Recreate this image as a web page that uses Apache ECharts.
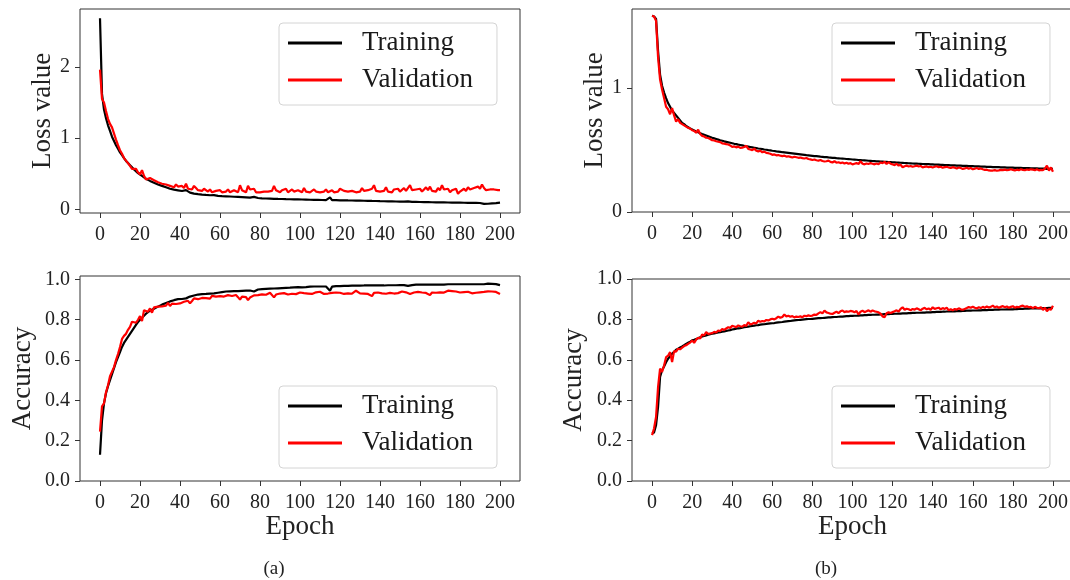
<!DOCTYPE html>
<html>
<head>
<meta charset="utf-8">
<script src="https://cdn.jsdelivr.net/npm/echarts@6/dist/echarts.min.js"></script>
<style>
  html, body { margin: 0; padding: 0; background: #fff; }
  #chart { width: 1070px; height: 580px; }
</style>
</head>
<body>
<div id="chart"></div>
<script>
// Epoch ticks shown on every x axis
const epochTicks = [0, 20, 40, 60, 80, 100, 120, 140, 160, 180, 200];
const lossTicksA = [0, 1, 2];
const lossTicksB = [0, 1];
const accTicks = [0, 0.2, 0.4, 0.6, 0.8, 1.0];
const seriesNames = ['Training', 'Validation'];

// (a) loss per epoch, 0..200
const lossTrainA = [
  2.68, 1.62, 1.40, 1.28, 1.18, 1.10, 1.02, 0.96, 0.90, 0.85,
  0.80, 0.76, 0.72, 0.68, 0.65, 0.62, 0.59, 0.56, 0.54, 0.51,
  0.49, 0.47, 0.45, 0.43, 0.42, 0.40, 0.39, 0.375, 0.36, 0.35,
  0.34, 0.33, 0.32, 0.31, 0.30, 0.29, 0.285, 0.278, 0.272, 0.268,
  0.262, 0.258, 0.262, 0.270, 0.248, 0.236, 0.228, 0.222, 0.218, 0.214,
  0.211, 0.208, 0.206, 0.203, 0.201, 0.199, 0.196, 0.201, 0.194, 0.191,
  0.189, 0.187, 0.186, 0.184, 0.182, 0.181, 0.179, 0.178, 0.176, 0.175,
  0.173, 0.172, 0.170, 0.169, 0.168, 0.166, 0.165, 0.176, 0.172, 0.160,
  0.158, 0.155, 0.157, 0.153, 0.155, 0.151, 0.153, 0.149, 0.151, 0.147,
  0.149, 0.146, 0.148, 0.144, 0.146, 0.143, 0.145, 0.141, 0.143, 0.140,
  0.142, 0.139, 0.141, 0.138, 0.140, 0.136, 0.138, 0.135, 0.137, 0.134,
  0.135, 0.132, 0.134, 0.131, 0.138, 0.168, 0.130, 0.129, 0.131, 0.127,
  0.128, 0.126, 0.128, 0.125, 0.126, 0.123, 0.125, 0.122, 0.124, 0.121,
  0.125, 0.120, 0.122, 0.119, 0.121, 0.118, 0.119, 0.116, 0.118, 0.115,
  0.116, 0.114, 0.115, 0.112, 0.114, 0.111, 0.113, 0.110, 0.111, 0.109,
  0.110, 0.108, 0.109, 0.107, 0.112, 0.124, 0.106, 0.107, 0.105, 0.106,
  0.104, 0.105, 0.103, 0.104, 0.102, 0.103, 0.101, 0.102, 0.100, 0.101,
  0.099, 0.100, 0.098, 0.100, 0.097, 0.099, 0.096, 0.098, 0.095, 0.097,
  0.095, 0.096, 0.094, 0.095, 0.093, 0.095, 0.092, 0.094, 0.092, 0.093,
  0.090, 0.095, 0.078, 0.076, 0.080, 0.082, 0.085, 0.087, 0.089, 0.091,
  0.095
];
const lossValA = [
  1.96, 1.55, 1.50, 1.38, 1.27, 1.20, 1.15, 1.13, 0.98, 0.90,
  0.83, 0.78, 0.72, 0.70, 0.65, 0.61, 0.57, 0.55, 0.57, 0.52,
  0.49, 0.55, 0.47, 0.42, 0.43, 0.44, 0.46, 0.41, 0.40, 0.38,
  0.37, 0.36, 0.37, 0.35, 0.36, 0.33, 0.34, 0.31, 0.35, 0.32,
  0.31, 0.33, 0.30, 0.36, 0.29, 0.30, 0.28, 0.33, 0.30, 0.27,
  0.28, 0.26, 0.29, 0.27, 0.25, 0.28, 0.24, 0.23, 0.26, 0.25,
  0.27, 0.24, 0.26, 0.25, 0.28, 0.24, 0.26, 0.27, 0.25, 0.24,
  0.34, 0.27, 0.25, 0.24, 0.33, 0.28, 0.26, 0.29, 0.24, 0.25,
  0.24, 0.26, 0.25, 0.27, 0.25, 0.24, 0.26, 0.33, 0.27, 0.25,
  0.24, 0.27, 0.25, 0.29, 0.24, 0.26, 0.28, 0.25, 0.23, 0.27,
  0.26, 0.24, 0.30, 0.25, 0.27, 0.24, 0.26, 0.28, 0.25, 0.27,
  0.24, 0.26, 0.25, 0.28, 0.24, 0.25, 0.27, 0.24, 0.26, 0.25,
  0.29, 0.27, 0.26, 0.28, 0.25, 0.27, 0.26, 0.28, 0.24, 0.26,
  0.25, 0.30, 0.26, 0.24, 0.27, 0.25, 0.29, 0.34, 0.26, 0.28,
  0.25, 0.27, 0.26, 0.31, 0.25, 0.27, 0.24, 0.28, 0.26, 0.29,
  0.25, 0.27, 0.30, 0.26, 0.28, 0.34, 0.27, 0.25, 0.28, 0.26,
  0.29, 0.25, 0.28, 0.31, 0.27, 0.32, 0.26, 0.28, 0.25, 0.30,
  0.27, 0.34, 0.28, 0.26, 0.29, 0.24, 0.27, 0.26, 0.29, 0.22,
  0.25, 0.27, 0.29, 0.26, 0.31, 0.28, 0.27, 0.30, 0.28, 0.32,
  0.29, 0.35, 0.30, 0.27, 0.25, 0.28, 0.26, 0.28, 0.27, 0.27,
  0.27
];

// (a) accuracy per epoch
const accTrainA = [
  0.13, 0.30, 0.385, 0.435, 0.47, 0.50, 0.53, 0.56, 0.59, 0.615,
  0.64, 0.665, 0.685, 0.70, 0.715, 0.73, 0.745, 0.76, 0.775, 0.788,
  0.80, 0.81, 0.82, 0.83, 0.838, 0.845, 0.85, 0.855, 0.86, 0.865,
  0.87, 0.875, 0.879, 0.883, 0.887, 0.891, 0.894, 0.897, 0.90, 0.902,
  0.905, 0.903, 0.908, 0.906, 0.912, 0.915, 0.917, 0.920, 0.922, 0.925,
  0.928, 0.927, 0.929, 0.928, 0.931, 0.930, 0.932, 0.931, 0.933, 0.934,
  0.938, 0.937, 0.939, 0.940, 0.939, 0.941, 0.940, 0.942, 0.943, 0.942,
  0.944, 0.943, 0.945, 0.944, 0.946, 0.945, 0.946, 0.940, 0.944, 0.950,
  0.953, 0.952, 0.954, 0.953, 0.955, 0.954, 0.956, 0.955, 0.957, 0.956,
  0.958, 0.957, 0.959, 0.958, 0.960, 0.959, 0.960, 0.961, 0.960, 0.962,
  0.962, 0.961, 0.963, 0.962, 0.963, 0.964, 0.963, 0.965, 0.964, 0.965,
  0.966, 0.965, 0.966, 0.965, 0.962, 0.944, 0.964, 0.966, 0.967, 0.966,
  0.967, 0.966, 0.968, 0.967, 0.968, 0.967, 0.969, 0.968, 0.969, 0.968,
  0.969, 0.968, 0.970, 0.969, 0.970, 0.969, 0.970, 0.971, 0.970, 0.971,
  0.970, 0.971, 0.970, 0.972, 0.971, 0.972, 0.971, 0.972, 0.971, 0.973,
  0.972, 0.973, 0.972, 0.973, 0.968, 0.962, 0.972, 0.973, 0.974, 0.973,
  0.974, 0.973, 0.974, 0.973, 0.974, 0.975, 0.974, 0.975, 0.974, 0.975,
  0.974, 0.975, 0.974, 0.975, 0.976, 0.975, 0.976, 0.975, 0.976, 0.975,
  0.976, 0.975, 0.976, 0.975, 0.976, 0.977, 0.976, 0.977, 0.976, 0.977,
  0.976, 0.977, 0.976, 0.978, 0.979, 0.977, 0.978, 0.976, 0.977, 0.975,
  0.972
];
const accValA = [
  0.245, 0.37, 0.385, 0.44, 0.475, 0.52, 0.525, 0.565, 0.60, 0.63,
  0.665, 0.705, 0.72, 0.73, 0.75, 0.765, 0.79, 0.79, 0.785, 0.80,
  0.818, 0.793, 0.847, 0.847, 0.84, 0.856, 0.835, 0.861, 0.858, 0.865,
  0.868, 0.866, 0.873, 0.870, 0.884, 0.868, 0.880, 0.889, 0.878, 0.885,
  0.881, 0.886, 0.889, 0.884, 0.894, 0.881, 0.893, 0.906, 0.898, 0.902,
  0.900, 0.908, 0.914, 0.907, 0.911, 0.905, 0.918, 0.926, 0.915, 0.920,
  0.917, 0.921, 0.915, 0.919, 0.922, 0.914, 0.918, 0.920, 0.923, 0.912,
  0.900, 0.915, 0.918, 0.912, 0.897, 0.910, 0.916, 0.921, 0.925, 0.922,
  0.930, 0.926, 0.928, 0.924, 0.931, 0.934, 0.927, 0.911, 0.925, 0.929,
  0.930, 0.926, 0.932, 0.928, 0.925, 0.931, 0.929, 0.933, 0.927, 0.930,
  0.935, 0.929, 0.932, 0.926, 0.930, 0.934, 0.928, 0.931, 0.936, 0.930,
  0.939, 0.932, 0.928, 0.934, 0.930, 0.927, 0.933, 0.929, 0.935, 0.931,
  0.934, 0.930, 0.928, 0.935, 0.931, 0.937, 0.929, 0.933, 0.944, 0.935,
  0.931, 0.937, 0.930, 0.934, 0.928, 0.932, 0.917, 0.933, 0.938, 0.935,
  0.936, 0.931, 0.934, 0.929, 0.938, 0.933, 0.936, 0.930, 0.937, 0.932,
  0.935, 0.940, 0.931, 0.936, 0.930, 0.928, 0.921, 0.935, 0.944, 0.938,
  0.942, 0.935, 0.939, 0.933, 0.937, 0.922, 0.935, 0.940, 0.934, 0.938,
  0.936, 0.941, 0.935, 0.939, 0.944, 0.950, 0.942, 0.936, 0.940, 0.933,
  0.935, 0.930, 0.937, 0.933, 0.939, 0.935, 0.931, 0.937, 0.934, 0.940,
  0.936, 0.932, 0.938, 0.935, 0.941, 0.946, 0.940, 0.936, 0.938, 0.932,
  0.928
];

// (b) loss per epoch
const lossTrainB = [
  1.585, 1.58, 1.56, 1.30, 1.11, 1.02, 0.965, 0.92, 0.88, 0.85,
  0.82, 0.80, 0.78, 0.76, 0.74, 0.72, 0.71, 0.695, 0.685, 0.675,
  0.667, 0.659, 0.651, 0.644, 0.637, 0.630, 0.624, 0.618, 0.612, 0.606,
  0.600, 0.595, 0.590, 0.585, 0.580, 0.576, 0.571, 0.567, 0.563, 0.559,
  0.555, 0.551, 0.548, 0.544, 0.541, 0.538, 0.534, 0.531, 0.528, 0.525,
  0.522, 0.519, 0.516, 0.513, 0.511, 0.508, 0.505, 0.503, 0.500, 0.498,
  0.495, 0.493, 0.490, 0.488, 0.486, 0.483, 0.481, 0.479, 0.477, 0.475,
  0.473, 0.471, 0.469, 0.467, 0.465, 0.463, 0.461, 0.459, 0.458, 0.456,
  0.454, 0.452, 0.451, 0.449, 0.447, 0.446, 0.444, 0.443, 0.441, 0.440,
  0.438, 0.437, 0.435, 0.434, 0.432, 0.431, 0.430, 0.428, 0.427, 0.426,
  0.424, 0.423, 0.422, 0.420, 0.419, 0.418, 0.417, 0.416, 0.414, 0.413,
  0.412, 0.411, 0.410, 0.409, 0.408, 0.407, 0.406, 0.405, 0.404, 0.403,
  0.402, 0.401, 0.400, 0.399, 0.398, 0.397, 0.396, 0.395, 0.394, 0.393,
  0.392, 0.391, 0.391, 0.390, 0.389, 0.388, 0.387, 0.386, 0.386, 0.385,
  0.384, 0.383, 0.382, 0.382, 0.381, 0.380, 0.379, 0.379, 0.378, 0.377,
  0.376, 0.376, 0.375, 0.374, 0.374, 0.373, 0.372, 0.372, 0.371, 0.370,
  0.370, 0.369, 0.368, 0.368, 0.367, 0.366, 0.366, 0.365, 0.365, 0.364,
  0.363, 0.363, 0.362, 0.362, 0.361, 0.360, 0.360, 0.359, 0.359, 0.358,
  0.358, 0.357, 0.357, 0.356, 0.356, 0.355, 0.355, 0.354, 0.354, 0.353,
  0.353, 0.352, 0.352, 0.351, 0.351, 0.350, 0.350, 0.349, 0.349, 0.348,
  0.348
];
const lossValB = [
  1.585, 1.58, 1.545, 1.25, 1.07, 0.99, 0.92, 0.85, 0.83, 0.79,
  0.84, 0.78, 0.73, 0.75, 0.72, 0.71, 0.70, 0.69, 0.68, 0.675,
  0.66, 0.655, 0.64, 0.665, 0.63, 0.615, 0.61, 0.60, 0.598, 0.59,
  0.58, 0.578, 0.572, 0.568, 0.565, 0.555, 0.552, 0.548, 0.545, 0.538,
  0.525, 0.53, 0.522, 0.528, 0.518, 0.52, 0.525, 0.535, 0.51, 0.505,
  0.50, 0.512, 0.495, 0.49, 0.495, 0.482, 0.488, 0.478, 0.475, 0.47,
  0.462, 0.465, 0.458, 0.46, 0.455, 0.452, 0.455, 0.448, 0.45, 0.445,
  0.44, 0.446, 0.442, 0.438, 0.44, 0.435, 0.432, 0.436, 0.428, 0.425,
  0.42, 0.424, 0.418, 0.415, 0.42, 0.412, 0.408, 0.41, 0.415, 0.405,
  0.40, 0.41, 0.398, 0.402, 0.395, 0.40, 0.392, 0.398, 0.39, 0.395,
  0.385, 0.39, 0.395, 0.388, 0.41, 0.39, 0.385, 0.392, 0.388, 0.395,
  0.39, 0.385, 0.392, 0.386, 0.40, 0.395, 0.405, 0.388, 0.402, 0.39,
  0.385, 0.378, 0.39, 0.375, 0.382, 0.362, 0.37, 0.375, 0.368, 0.372,
  0.365, 0.37, 0.375, 0.368, 0.372, 0.36, 0.365, 0.368, 0.362, 0.366,
  0.36, 0.365, 0.37, 0.362, 0.366, 0.358, 0.362, 0.365, 0.36, 0.355,
  0.362, 0.358, 0.352, 0.36, 0.355, 0.348, 0.352, 0.358, 0.35, 0.355,
  0.345, 0.35, 0.355, 0.348, 0.352, 0.345, 0.34, 0.342, 0.336, 0.334,
  0.335, 0.338, 0.333, 0.336, 0.34, 0.338, 0.342, 0.337, 0.34, 0.345,
  0.34, 0.336, 0.342, 0.338, 0.345, 0.34, 0.337, 0.343, 0.34, 0.345,
  0.342, 0.338, 0.345, 0.336, 0.34, 0.338, 0.35, 0.375, 0.335, 0.36,
  0.325
];

// (b) accuracy per epoch
const accTrainB = [
  0.235, 0.24, 0.276, 0.367, 0.515, 0.548, 0.567, 0.588, 0.605, 0.618,
  0.63, 0.64, 0.65, 0.655, 0.661, 0.666, 0.672, 0.679, 0.685, 0.690,
  0.696, 0.699, 0.703, 0.707, 0.711, 0.715, 0.718, 0.721, 0.724, 0.727,
  0.729, 0.731, 0.733, 0.735, 0.737, 0.739, 0.741, 0.743, 0.745, 0.747,
  0.750, 0.752, 0.754, 0.756, 0.757, 0.759, 0.761, 0.763, 0.764, 0.766,
  0.768, 0.769, 0.771, 0.772, 0.774, 0.775, 0.776, 0.778, 0.779, 0.780,
  0.781, 0.782, 0.784, 0.785, 0.786, 0.787, 0.789, 0.790, 0.791, 0.792,
  0.794, 0.795, 0.796, 0.797, 0.798, 0.799, 0.800, 0.801, 0.802, 0.802,
  0.803, 0.804, 0.805, 0.806, 0.806, 0.807, 0.808, 0.809, 0.810, 0.810,
  0.811, 0.812, 0.812, 0.813, 0.814, 0.814, 0.815, 0.816, 0.816, 0.817,
  0.817, 0.818, 0.818, 0.819, 0.820, 0.820, 0.821, 0.821, 0.822, 0.822,
  0.823, 0.823, 0.824, 0.824, 0.825, 0.825, 0.826, 0.826, 0.826, 0.827,
  0.827, 0.828, 0.828, 0.829, 0.829, 0.830, 0.830, 0.830, 0.831, 0.831,
  0.832, 0.832, 0.833, 0.833, 0.833, 0.834, 0.834, 0.835, 0.835, 0.835,
  0.836, 0.836, 0.837, 0.837, 0.837, 0.838, 0.838, 0.839, 0.839, 0.839,
  0.840, 0.840, 0.841, 0.841, 0.841, 0.842, 0.842, 0.843, 0.843, 0.843,
  0.844, 0.844, 0.844, 0.845, 0.845, 0.846, 0.846, 0.846, 0.847, 0.847,
  0.847, 0.848, 0.848, 0.848, 0.849, 0.849, 0.849, 0.850, 0.850, 0.850,
  0.850, 0.851, 0.851, 0.852, 0.852, 0.852, 0.853, 0.853, 0.853, 0.854,
  0.854, 0.854, 0.855, 0.855, 0.855, 0.856, 0.856, 0.856, 0.857, 0.857,
  0.857
];
const accValB = [
  0.227, 0.26, 0.317, 0.465, 0.556, 0.54, 0.572, 0.613, 0.62, 0.638,
  0.589, 0.643, 0.64, 0.655, 0.652, 0.66, 0.668, 0.672, 0.679, 0.685,
  0.696, 0.684, 0.70, 0.709, 0.705, 0.725, 0.72, 0.737, 0.728, 0.73,
  0.732, 0.738, 0.735, 0.745, 0.742, 0.753, 0.748, 0.755, 0.761, 0.758,
  0.768, 0.765, 0.762, 0.77, 0.766, 0.764, 0.772, 0.768, 0.786, 0.775,
  0.778, 0.783, 0.78, 0.794, 0.788, 0.792, 0.79, 0.797, 0.795, 0.80,
  0.803, 0.80, 0.806, 0.814, 0.808, 0.812, 0.824, 0.815, 0.818, 0.813,
  0.816, 0.81, 0.814, 0.812, 0.815, 0.811, 0.818, 0.816, 0.82, 0.817,
  0.819, 0.824, 0.822, 0.83, 0.836, 0.83, 0.844, 0.835, 0.832, 0.828,
  0.827, 0.833, 0.838, 0.831, 0.84, 0.844, 0.836, 0.84, 0.838, 0.842,
  0.84, 0.835, 0.842, 0.824, 0.838, 0.843, 0.836, 0.84, 0.845, 0.838,
  0.844, 0.84, 0.838, 0.835, 0.828, 0.815, 0.811, 0.83, 0.835, 0.832,
  0.836, 0.84, 0.845, 0.838, 0.852, 0.86, 0.848, 0.853, 0.85, 0.845,
  0.852, 0.848, 0.855, 0.85, 0.845, 0.853, 0.857, 0.85, 0.854, 0.848,
  0.86, 0.852, 0.855, 0.858, 0.85, 0.856, 0.852, 0.858, 0.845, 0.85,
  0.845, 0.852, 0.848, 0.855, 0.85, 0.848, 0.852, 0.856, 0.861, 0.858,
  0.863, 0.858, 0.854, 0.86, 0.856, 0.862, 0.858, 0.864, 0.859, 0.862,
  0.868, 0.86, 0.864, 0.858, 0.862, 0.866, 0.86, 0.864, 0.858, 0.862,
  0.865, 0.858, 0.862, 0.86, 0.866, 0.868, 0.862, 0.865, 0.86, 0.862,
  0.856, 0.862, 0.858, 0.855, 0.86, 0.847, 0.858, 0.84, 0.852, 0.848,
  0.868
];

const FONT = "'Liberation Serif', 'Times New Roman', serif";
const TEXT = '#222';
const AXIS = '#333';
const COLORS = ['#000000', '#ff0000'];

// panel frames: (a) left column, (b) right column
const grids = [
  { left: 80,  top: 9,   width: 440, height: 204 },
  { left: 80,  top: 276, width: 440, height: 205 },
  { left: 632, top: 9,   width: 441, height: 203 },
  { left: 632, top: 279, width: 441, height: 202 }
].map(g => Object.assign({
  show: true, borderColor: AXIS, borderWidth: 1,
  backgroundColor: 'transparent', containLabel: false, outerBoundsMode: 'none'
}, g));

function xAxis(gridIndex, withName) {
  return {
    type: 'value', gridIndex, min: -10, max: 210, position: 'bottom',
    axisLine: { show: false, onZero: false },
    splitLine: { show: false },
    axisTick: { show: true, inside: false, length: 5, customValues: epochTicks,
      lineStyle: { color: AXIS, width: 1 } },
    axisLabel: { customValues: epochTicks, margin: 12, color: TEXT,
      fontFamily: FONT, fontSize: 20, lineHeight: 20 },
    name: withName ? 'Epoch' : '',
    nameLocation: 'middle', nameGap: 29,
    nameTextStyle: { fontFamily: FONT, fontSize: 27, lineHeight: 27, color: TEXT }
  };
}

function yAxis(gridIndex, min, max, ticks, name, gap, decimals) {
  return {
    type: 'value', gridIndex, min, max, position: 'left',
    axisLine: { show: false, onZero: false },
    splitLine: { show: false },
    axisTick: { show: true, inside: false, length: 5, customValues: ticks,
      lineStyle: { color: AXIS, width: 1 } },
    axisLabel: { customValues: ticks, margin: 10, color: TEXT,
      fontFamily: FONT, fontSize: 20, lineHeight: 20,
      formatter: v => v.toFixed(decimals) },
    name, nameLocation: 'middle', nameGap: gap,
    nameTextStyle: { fontFamily: FONT, fontSize: 27, lineHeight: 27, color: TEXT }
  };
}

function legend(left, top) {
  return {
    data: seriesNames, orient: 'vertical', left, top,
    icon: 'rect', itemWidth: 54, itemHeight: 3, itemGap: 9,
    padding: [6, 24, 11, 9],
    backgroundColor: '#fff', borderColor: '#d4d4d4', borderWidth: 1, borderRadius: 4,
    selectedMode: false,
    textStyle: { fontFamily: FONT, fontSize: 27, lineHeight: 28, color: '#1a1a1a',
      padding: [0, 0, 0, 15] }
  };
}

function toPairs(values) {
  return values.map((v, i) => [i, v]);
}

function line(name, values, axisIndex) {
  const color = name === seriesNames[0] ? COLORS[0] : COLORS[1];
  return {
    name, type: 'line', xAxisIndex: axisIndex, yAxisIndex: axisIndex,
    data: toPairs(values), showSymbol: false, symbol: 'none',
    color, itemStyle: { color },
    lineStyle: { color, width: 2.2 },
    clip: true, silent: true
  };
}

const option = {
  animation: false,
  backgroundColor: '#ffffff',
  grid: grids,
  xAxis: [xAxis(0, false), xAxis(1, true), xAxis(2, false), xAxis(3, true)],
  yAxis: [
    yAxis(0, -0.05, 2.81, lossTicksA, 'Loss value', 24, 0),
    yAxis(1, 0, 1.017, accTicks, 'Accuracy', 44, 1),
    yAxis(2, 0, 1.64, lossTicksB, 'Loss value', 24, 0),
    yAxis(3, 0, 1.0, accTicks, 'Accuracy', 45, 1)
  ],
  legend: [legend(279, 23), legend(279, 386), legend(832, 23), legend(832, 386)],
  series: [
    line('Training', lossTrainA, 0), line('Validation', lossValA, 0),
    line('Training', accTrainA, 1), line('Validation', accValA, 1),
    line('Training', lossTrainB, 2), line('Validation', lossValB, 2),
    line('Training', accTrainB, 3), line('Validation', accValB, 3)
  ],
  graphic: [
    { type: 'text', x: 274, y: 569, silent: true,
      style: { text: '(a)', font: "19px 'Liberation Serif', serif", fill: TEXT,
        textAlign: 'center', textVerticalAlign: 'middle', align: 'center', verticalAlign: 'middle' } },
    { type: 'text', x: 826, y: 569, silent: true,
      style: { text: '(b)', font: "19px 'Liberation Serif', serif", fill: TEXT,
        textAlign: 'center', textVerticalAlign: 'middle', align: 'center', verticalAlign: 'middle' } }
  ]
};

const chart = echarts.init(document.getElementById('chart'), null, { renderer: 'canvas' });
chart.setOption(option);
</script>
</body>
</html>
